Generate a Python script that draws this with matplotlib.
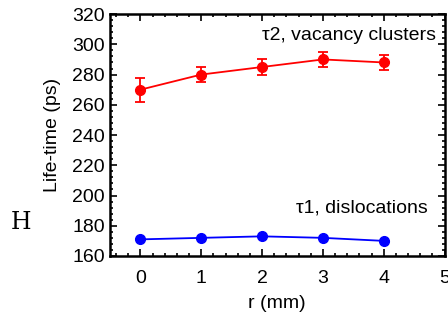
import numpy as np
import matplotlib
matplotlib.use("Agg")
import matplotlib.pyplot as plt
from matplotlib.ticker import MultipleLocator

plt.rcParams['font.family'] = ['Liberation Sans', 'DejaVu Sans']

r = [0, 1, 2, 3, 4]
tau2 = [270, 280, 285, 290, 288]
tau2_err = [8, 5, 5, 5, 5]
tau1 = [171, 172, 173, 172, 170]
tau1_err = [1, 1, 1, 1, 1]

fig = plt.figure(figsize=(4.48, 3.2), dpi=100)
ax = fig.add_axes([0.2455, 0.2, 0.747, 0.756])

ax.errorbar(r, tau2, yerr=tau2_err, color='#ff0000', marker='o', ms=7,
            lw=1.3, capsize=3.5, elinewidth=1.3, capthick=1.3)
ax.errorbar(r, tau1, yerr=tau1_err, color='#0000ff', marker='o', ms=7,
            lw=1.3, capsize=3, elinewidth=1.3, capthick=1.3)

ax.set_xlim(-0.5, 5)
ax.set_ylim(160, 320)
ax.xaxis.set_major_locator(MultipleLocator(1))
ax.xaxis.set_minor_locator(MultipleLocator(0.2))
ax.yaxis.set_major_locator(MultipleLocator(20))
ax.yaxis.set_minor_locator(MultipleLocator(4))
ax.tick_params(which='both', direction='in', top=True, right=True, labelsize=14, width=1.2)
ax.tick_params(which='major', length=5)
ax.tick_params(which='minor', length=2.5)
ax.tick_params(axis='x', pad=10)
for s in ax.spines.values():
    s.set_linewidth(1.8)

ax.set_xlabel('r (mm)', fontsize=14, labelpad=6)
ax.set_ylabel('Life-time (ps)', fontsize=14, labelpad=8)

ax.text(4.86, 306, 'τ2, vacancy clusters', ha='right', va='center', fontsize=14)
ax.text(4.73, 192, 'τ1, dislocations', ha='right', va='center', fontsize=14)
fig.text(0.047, 0.306, 'H', ha='center', va='center', fontsize=17, family='DejaVu Serif')

fig.savefig('out.png', dpi=100)
